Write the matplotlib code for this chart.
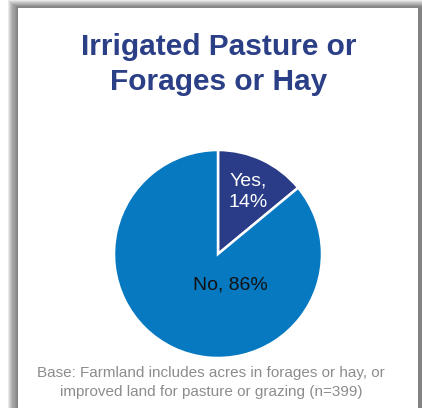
import numpy as np
import matplotlib.pyplot as plt
from matplotlib.patches import Rectangle

plt.rcParams['font.family'] = ['Liberation Sans', 'DejaVu Sans']

title_lines = ["Irrigated Pasture or", "Forages or Hay"]
labels = ["Yes,\n14%", "No, 86%"]
shares = [14, 86]
colors = ['#2A3C87', '#0679C1']
note_lines = ["Base: Farmland includes acres in forages or hay, or",
              "improved land for pasture or grazing (n=399)"]

W, H = 422, 408
fig = plt.figure(figsize=(W/100., H/100.), dpi=100)
fig.patch.set_facecolor('white')

def px(x, y):
    # pixel coords (top-left origin) -> figure fraction
    return x/W, 1 - y/H

# card shadow: stacked translucent rects, darker toward the card edge
for i in range(9):
    x0, y0 = 8 + i*1.1, 0 + i*0.9
    x1, y1 = 422, 430
    fig.patches.append(Rectangle((x0/W, 1 - y1/H), (x1-x0)/W, (y1-y0)/H,
                                 transform=fig.transFigure, facecolor='#505050',
                                 alpha=0.12, edgecolor='none', zorder=0))
fig.patches.append(Rectangle((18/W, 1 - 430/H), (418-18)/W, (430-8)/H,
                             transform=fig.transFigure, facecolor='white',
                             edgecolor='none', zorder=1))

# title
fig.text(*px(219, 47), title_lines[0], ha='center', va='center', fontsize=21.5,
         fontweight='bold', color='#2B3F87', zorder=4)
fig.text(*px(219, 82), title_lines[1], ha='center', va='center', fontsize=21.5,
         fontweight='bold', color='#2B3F87', zorder=4)

# pie
cx, cy, r = 218, 254, 104
ax = fig.add_axes([(cx-r)/W, (H-cy-r)/H, 2*r/W, 2*r/H])
ax.set_zorder(5)
wedges, _ = ax.pie(shares, colors=colors, startangle=90, counterclock=False,
                   wedgeprops=dict(edgecolor='white', linewidth=1.8))
ax.set_xlim(-1, 1)
ax.set_ylim(-1, 1)
ax.set_aspect('equal')
ax.axis('off')

ax.text(0.29, 0.60, labels[0], ha='center', va='center', fontsize=14,
        color='white', linespacing=1.3)
ax.text(0.12, -0.30, labels[1], ha='center', va='center', fontsize=14,
        color='#111111')

# footnote
fig.text(*px(211, 373), note_lines[0], ha='center', va='center', fontsize=11,
         color='#8C8C8C', zorder=4)
fig.text(*px(211, 392), note_lines[1], ha='center', va='center', fontsize=11,
         color='#8C8C8C', zorder=4)

plt.savefig('out.png', dpi=100)
